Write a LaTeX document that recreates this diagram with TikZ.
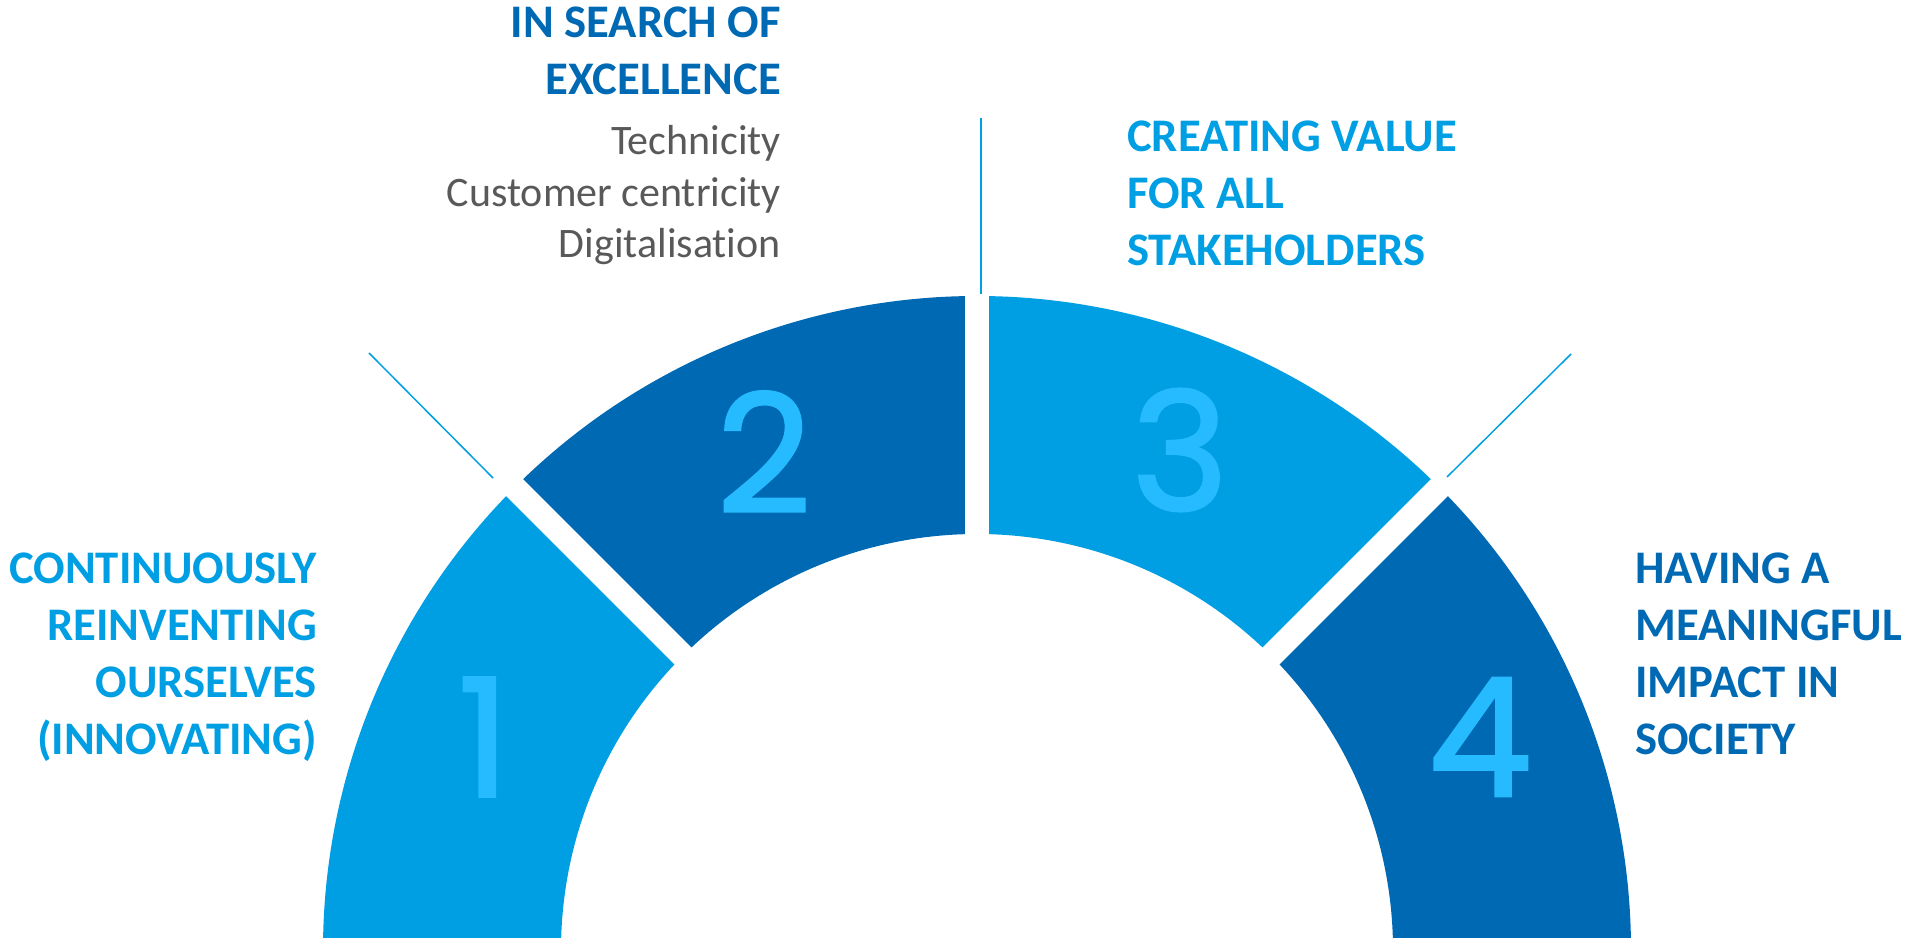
\documentclass[tikz,border=0pt]{standalone}
\usepackage{fontspec}
\setmainfont[Ligatures=NoCommon]{Carlito}
\newfontfamily\digitfont[FakeBold=1.6]{Poppins}
\definecolor{lightblue}{HTML}{009FE3}
\definecolor{darkblue}{HTML}{0069B4}
\definecolor{digitblue}{HTML}{26BBFF}
\definecolor{textgray}{HTML}{595959}

\begin{document}
\begin{tikzpicture}[x=1pt,y=1pt]
	\tikzstyle{every node}+=[inner sep=0pt]
	\tikzstyle{headline}=[font=\bfseries\fontsize{46.7}{57.3}\selectfont]
	\tikzstyle{subline}=[font=\fontsize{42}{51.5}\selectfont, text=textgray]
	\tikzstyle{digit}=[font=\digitfont\fontsize{165}{165}\selectfont, text=digitblue]
	\tikzstyle{gap}=[white, line width=24pt]
	\tikzstyle{guide}=[lightblue, line width=1.5pt]
	\useasboundingbox (0,0) rectangle (1913,937);
	\clip (0,0) rectangle (1913,937);
	% ring of four sectors, centre just below the page
	\begin{scope}[shift={(977,-13)}]
		\coordinate (c) at (0,0);
		\fill [lightblue] (180:654) arc (180:135:654) -- (135:416) arc (135:180:416) -- cycle;
		\fill [darkblue] (135:654) arc (135:90:654) -- (90:416) arc (90:135:416) -- cycle;
		\fill [lightblue] (90:654) arc (90:45:654) -- (45:416) arc (45:90:416) -- cycle;
		\fill [darkblue] (45:654) arc (45:0:654) -- (0:416) arc (0:45:416) -- cycle;
		\draw [gap] (c) -- (135:700);
		\draw [gap] (c) -- (90:700);
		\draw [gap] (c) -- (45:700);
	\end{scope}
	\coordinate (g1a) at (369,584);
	\coordinate (g1b) at (493,459);
	\coordinate (g2a) at (981,819);
	\coordinate (g2b) at (981,643);
	\coordinate (g3a) at (1447,460);
	\coordinate (g3b) at (1571,583);
	\draw [guide] (g1a) -- (g1b);
	\draw [guide] (g2a) -- (g2b);
	\draw [guide] (g3a) -- (g3b);
	\node [digit] (n1) at (484,200) {1};
	\node [digit] (n2) at (764,485) {2};
	\node [digit] (n3) at (1180,487) {3};
	\node [digit] (n4) at (1480,200) {4};
	% base anchor sits on the last line
	\node [headline, text=darkblue, align=right, anchor=base east] (excellence) at (781,842) {IN SEARCH OF\\EXCELLENCE};
	\node [subline, align=right, anchor=base east] (pillars) at (781,679) {Technicity\\Customer centricity\\Digitalisation};
	\node [headline, text=lightblue, align=left, anchor=base west] (value) at (1127,671) {CREATING VALUE\\FOR ALL\\STAKEHOLDERS};
	\node [headline, text=lightblue, align=right, anchor=base east] (innovating) at (317,182) {CONTINUOUSLY\\REINVENTING\\OURSELVES\\(INNOVATING)};
	\node [headline, text=darkblue, align=left, anchor=base west] (impact) at (1635,182) {HAVING A\\MEANINGFUL\\IMPACT IN\\SOCIETY};
\end{tikzpicture}
\end{document}
